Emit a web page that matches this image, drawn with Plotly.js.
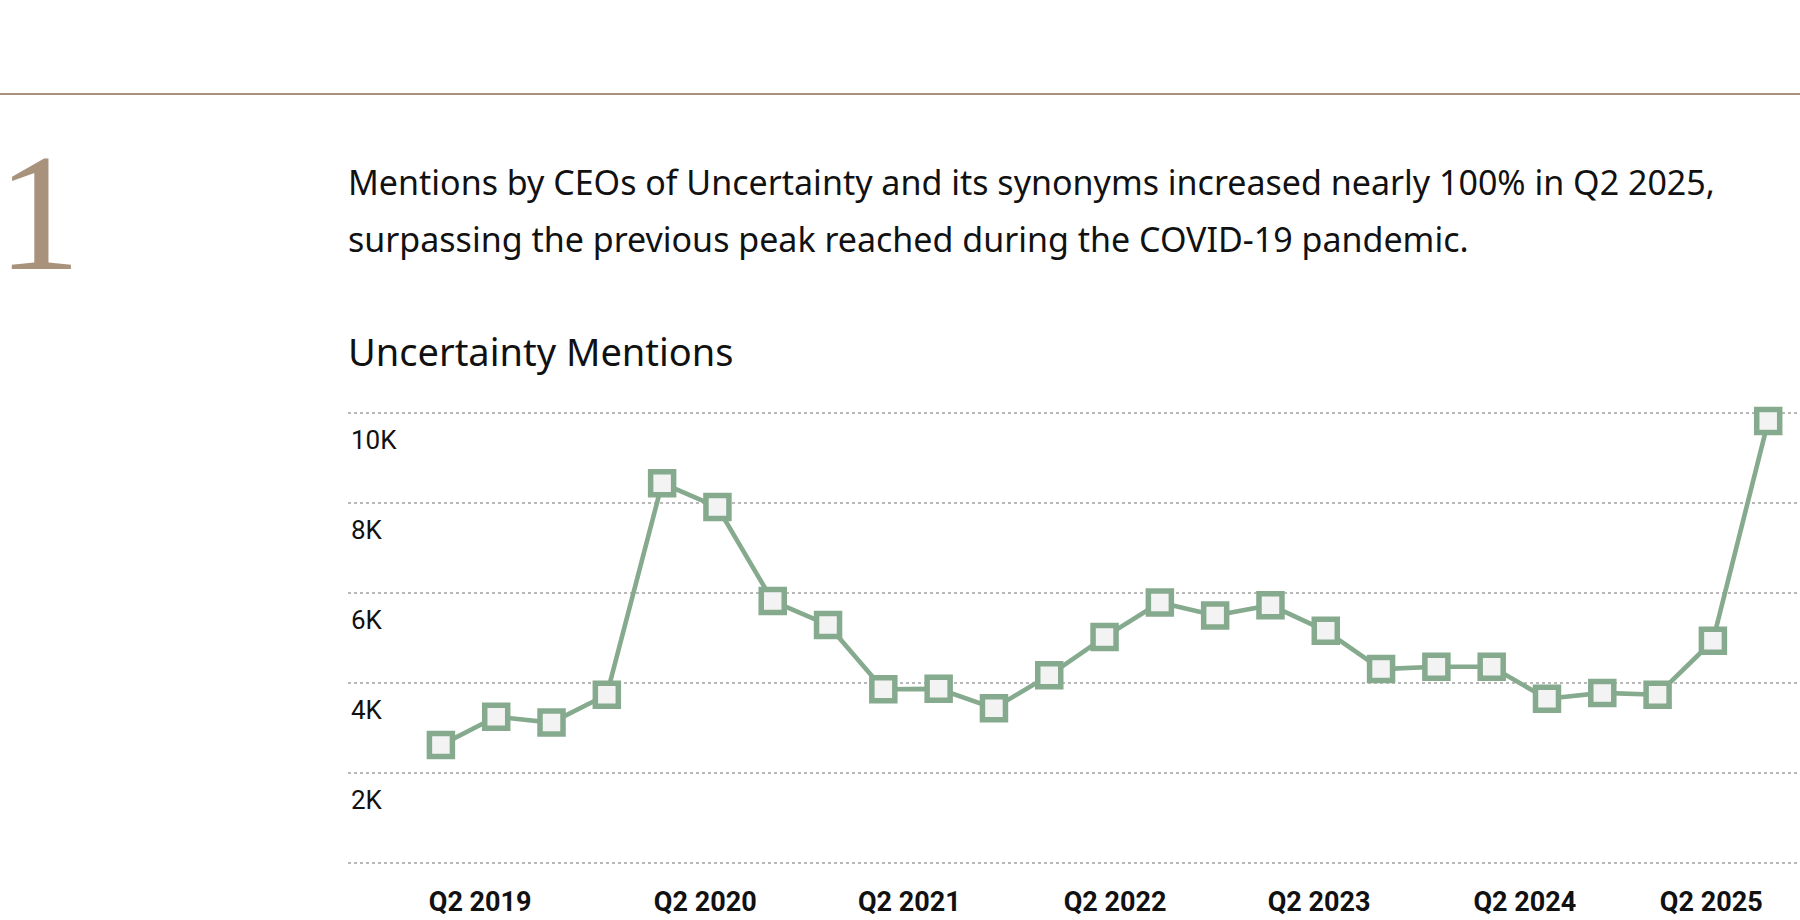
<!DOCTYPE html>
<html>
<head>
<meta charset="utf-8">
<script src="https://cdn.plot.ly/plotly-3.0.1.min.js"></script>
<style>
  html, body { margin: 0; padding: 0; background: #fff; }
  #chart { width: 1800px; height: 920px; }
</style>
</head>
<body>
<div id="chart"></div>
<script>
// quarterly counts of "uncertainty" mentions by CEOs
const quarters = [
  'Q2 2019', 'Q3 2019', 'Q4 2019', 'Q1 2020', 'Q2 2020', 'Q3 2020', 'Q4 2020',
  'Q1 2021', 'Q2 2021', 'Q3 2021', 'Q4 2021', 'Q1 2022', 'Q2 2022', 'Q3 2022',
  'Q4 2022', 'Q1 2023', 'Q2 2023', 'Q3 2023', 'Q4 2023', 'Q1 2024', 'Q2 2024',
  'Q3 2024', 'Q4 2024', 'Q1 2025', 'Q2 2025'
];
const mentions = [
  2620, 3250, 3120, 3740, 8440, 7910, 5820,
  5290, 3860, 3870, 3440, 4170, 5020, 5790,
  5500, 5730, 5160, 4310, 4360, 4360, 3650,
  3780, 3740, 4940, 9820
];

// x axis labels (they sit a bit off the quarter points in the original)
const xTickText = ['Q2 2019', 'Q2 2020', 'Q2 2021', 'Q2 2022', 'Q2 2023', 'Q2 2024', 'Q2 2025'];
const xTickPos = [0.71, 4.78, 8.47, 12.19, 15.88, 19.60, 22.97];

const yTickVals = [0, 2000, 4000, 6000, 8000, 10000];
const yTickText = ['', '2K', '4K', '6K', '8K', '10K'];

const headline = [
  'Mentions by CEOs of Uncertainty and its synonyms increased nearly 100% in Q2 2025,',
  'surpassing the previous peak reached during the COVID-19 pandemic.'
];

const green = '#86aa8e';
const tan = '#a8927c';

// page geometry (y range padded a little so the 0 and 10K grid lines get drawn)
const W = 1800, H = 920;
const mg = { l: 348, r: 0, t: 404, b: 48 };
const plotW = W - mg.l - mg.r, plotH = H - mg.t - mg.b;
const px2x = px => (px - mg.l) / plotW;
const px2y = py => (H - mg.b - py) / plotH;

const trace = {
  x: quarters.map((q, i) => i),
  y: mentions,
  text: quarters,
  type: 'scatter',
  mode: 'lines+markers',
  line: { color: green, width: 4.6 },
  marker: {
    symbol: 'square',
    size: 23,
    color: '#f3f3f3',
    line: { color: green, width: 5.5 }
  },
  cliponaxis: false,
  hovertemplate: '%{text}: %{y:,}<extra></extra>'
};

const tickFamily = 'Roboto, "Liberation Sans", sans-serif';
const body = '"Noto Sans", "Open Sans", sans-serif';

var annotations = headline.map((t, i) => ({
  text: t,
  xref: 'paper', yref: 'paper',
  x: px2x(346), y: px2y(182 + i * 57),
  xanchor: 'left', yanchor: 'middle',
  showarrow: false,
  font: { family: body, size: 34, color: '#111' }
}));

annotations.push({
  text: '1',
  xref: 'paper', yref: 'paper',
  x: px2x(-5), y: px2y(212),
  xanchor: 'left', yanchor: 'middle',
  showarrow: false,
  font: { family: '"Liberation Serif", "DejaVu Serif", serif', size: 168, color: tan }
});

var layout = {
  width: W,
  height: H,
  margin: mg,
  paper_bgcolor: '#fff',
  plot_bgcolor: '#fff',
  showlegend: false,
  title: {
    text: 'Uncertainty Mentions',
    xref: 'container', yref: 'container',
    x: 348 / W, y: 1 - 353 / H,
    xanchor: 'left', yanchor: 'middle',
    font: { family: body, size: 38, color: '#111' }
  },
  xaxis: {
    range: [-1.68, 24.575],
    tickvals: xTickPos,
    ticktext: xTickText,
    ticks: '',
    showgrid: false,
    zeroline: false,
    showline: false,
    tickfont: { family: tickFamily, size: 27, color: '#111', weight: 'bold' },
    ticklabelstandoff: 11,
    fixedrange: true
  },
  yaxis: {
    range: [-200, 10200],
    tickvals: yTickVals,
    ticktext: yTickText,
    ticks: '',
    ticklabelposition: 'inside',
    ticklabelshift: 27,
    ticklabelstandoff: 0,
    showgrid: true,
    gridcolor: '#b8b8b8',
    gridwidth: 2,
    griddash: 'dot',
    zeroline: false,
    showline: false,
    tickfont: { family: tickFamily, size: 26, color: '#111' },
    fixedrange: true
  },
  shapes: [{
    type: 'line',
    xref: 'paper', yref: 'paper',
    x0: px2x(0), x1: 1,
    y0: px2y(94), y1: px2y(94),
    line: { color: tan, width: 2 }
  }],
  annotations: annotations
};

Plotly.newPlot('chart', [trace], layout, { displayModeBar: false, staticPlot: true });
</script>
</body>
</html>
